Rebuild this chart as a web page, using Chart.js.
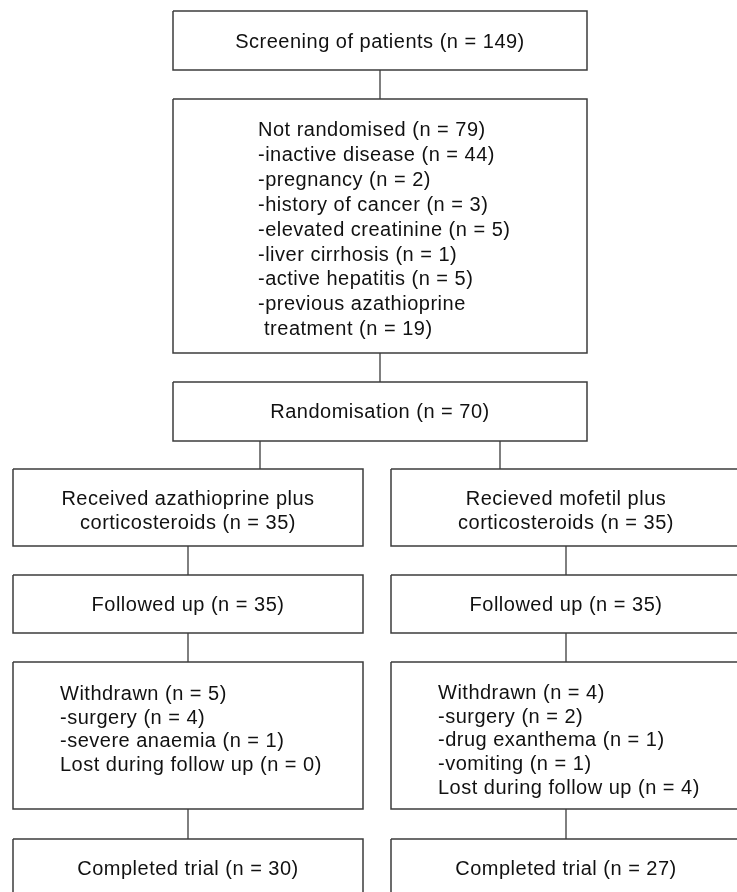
<!DOCTYPE html>
<html>
<head>
<meta charset="utf-8">
<script src="https://cdn.jsdelivr.net/npm/chart.js@4"></script>
<style>
html,body{margin:0;padding:0;background:#fff;}
#wrap{width:737px;height:892px;}
canvas{display:block;}
</style>
</head>
<body>
<div id="wrap"><canvas id="c" width="737" height="892"></canvas></div>
<script>
const screenedN = 149;
const notRandomisedN = 79;
const exclusionReasons = ['inactive disease', 'pregnancy', 'history of cancer', 'elevated creatinine', 'liver cirrhosis', 'active hepatitis', 'previous azathioprine'];
const exclusionCounts = [44, 2, 3, 5, 1, 5, 19];
const randomisedN = 70;
const armLabels = ['Received azathioprine plus', 'Recieved mofetil plus'];
const armReceived = [35, 35];
const armFollowed = [35, 35];
const armWithdrawn = [5, 4];
const withdrawalReasonsA = ['surgery', 'severe anaemia'];
const withdrawalCountsA = [4, 1];
const withdrawalReasonsB = ['surgery', 'drug exanthema', 'vomiting'];
const withdrawalCountsB = [2, 1, 1];
const armLost = [0, 4];
const armCompleted = [30, 27];

// ---- text built from the data ----
const n = v => '(n = ' + v + ')';
const screenText = ['Screening of patients ' + n(screenedN)];
const notRandText = ['Not randomised ' + n(notRandomisedN)]
  .concat(exclusionReasons.slice(0, 6).map((r, i) => '-' + r + ' ' + n(exclusionCounts[i])))
  .concat(['-' + exclusionReasons[6], ' treatment ' + n(exclusionCounts[6])]);
const randText = ['Randomisation ' + n(randomisedN)];
const recvText = armLabels.map((l, i) => [l, 'corticosteroids ' + n(armReceived[i])]);
const folText = armFollowed.map(v => ['Followed up ' + n(v)]);
const wdText = [
  ['Withdrawn ' + n(armWithdrawn[0])].concat(withdrawalReasonsA.map((r, i) => '-' + r + ' ' + n(withdrawalCountsA[i]))).concat(['Lost during follow up ' + n(armLost[0])]),
  ['Withdrawn ' + n(armWithdrawn[1])].concat(withdrawalReasonsB.map((r, i) => '-' + r + ' ' + n(withdrawalCountsB[i]))).concat(['Lost during follow up ' + n(armLost[1])])
];
const compText = armCompleted.map(v => ['Completed trial ' + n(v)]);

// ---- layout (diagram units, scale 0..737 x 0..892) ----
const colL = {x0: 13, x1: 363, cx: 188};
const colR = {x0: 391, x1: 741, cx: 566};
const mid = {x0: 173, x1: 587, cx: 380};
const boxes = [
  {c: mid, y0: 11, y1: 70, lines: screenText, align: 'center', ty: 41, lh: 24},
  {c: mid, y0: 99, y1: 353, lines: notRandText, align: 'left', tx: 258, ty: 129, lh: 24.9},
  {c: mid, y0: 382, y1: 441, lines: randText, align: 'center', ty: 411, lh: 24},
  {c: colL, y0: 469, y1: 546, lines: recvText[0], align: 'center', ty: 498, lh: 24},
  {c: colR, y0: 469, y1: 546, lines: recvText[1], align: 'center', ty: 498, lh: 24},
  {c: colL, y0: 575, y1: 633, lines: folText[0], align: 'center', ty: 604, lh: 24},
  {c: colR, y0: 575, y1: 633, lines: folText[1], align: 'center', ty: 604, lh: 24},
  {c: colL, y0: 662, y1: 809, lines: wdText[0], align: 'left', tx: 60, ty: 693, lh: 23.5},
  {c: colR, y0: 662, y1: 809, lines: wdText[1], align: 'left', tx: 438, ty: 692, lh: 23.7},
  {c: colL, y0: 839, y1: 910, lines: compText[0], align: 'center', ty: 868, lh: 24},
  {c: colR, y0: 839, y1: 910, lines: compText[1], align: 'center', ty: 868, lh: 24}
];
const connectors = [
  [380, 70, 380, 99], [380, 353, 380, 382],
  [260, 441, 260, 469], [500, 441, 500, 469],
  [188, 546, 188, 575], [566, 546, 566, 575],
  [188, 633, 188, 662], [566, 633, 566, 662],
  [188, 809, 188, 839], [566, 809, 566, 839]
];

const lineColor = '#3c3c3c';
const datasets = [];
boxes.forEach(b => {
  datasets.push({
    data: [{x: b.c.x0, y: b.y0}, {x: b.c.x1, y: b.y0}, {x: b.c.x1, y: b.y1}, {x: b.c.x0, y: b.y1}, {x: b.c.x0, y: b.y0}],
    showLine: true, borderColor: lineColor, borderWidth: 1.5, pointRadius: 0, fill: false, tension: 0,
    borderJoinStyle: 'miter'
  });
});
connectors.forEach(k => {
  datasets.push({
    data: [{x: k[0], y: k[1]}, {x: k[2], y: k[3]}],
    showLine: true, borderColor: lineColor, borderWidth: 1.3, pointRadius: 0, fill: false
  });
});

const textPlugin = {
  id: 'boxText',
  afterDatasetsDraw(chart) {
    const ctx = chart.ctx, xs = chart.scales.x, ys = chart.scales.y;
    ctx.save();
    ctx.fillStyle = '#111111';
    ctx.font = '20px "Liberation Sans", Arial, sans-serif';
    try { ctx.letterSpacing = '0.5px'; } catch (e) {}
    ctx.textBaseline = 'middle';
    boxes.forEach(b => {
      b.lines.forEach((t, i) => {
        const y = ys.getPixelForValue(b.ty + i * b.lh + 1.5);
        if (b.align === 'center') {
          ctx.textAlign = 'center';
          ctx.fillText(t, xs.getPixelForValue(b.c.cx), y);
        } else {
          ctx.textAlign = 'left';
          ctx.fillText(t, xs.getPixelForValue(b.tx), y);
        }
      });
    });
    ctx.restore();
  }
};

new Chart(document.getElementById('c'), {
  type: 'scatter',
  data: {datasets},
  options: {
    responsive: false,
    animation: false,
    events: [],
    layout: {padding: 0},
    plugins: {legend: {display: false}, tooltip: {enabled: false}},
    scales: {
      x: {type: 'linear', min: 0, max: 737, display: false},
      y: {type: 'linear', min: 0, max: 892, reverse: true, display: false}
    }
  },
  plugins: [textPlugin]
});
</script>
</body>
</html>
